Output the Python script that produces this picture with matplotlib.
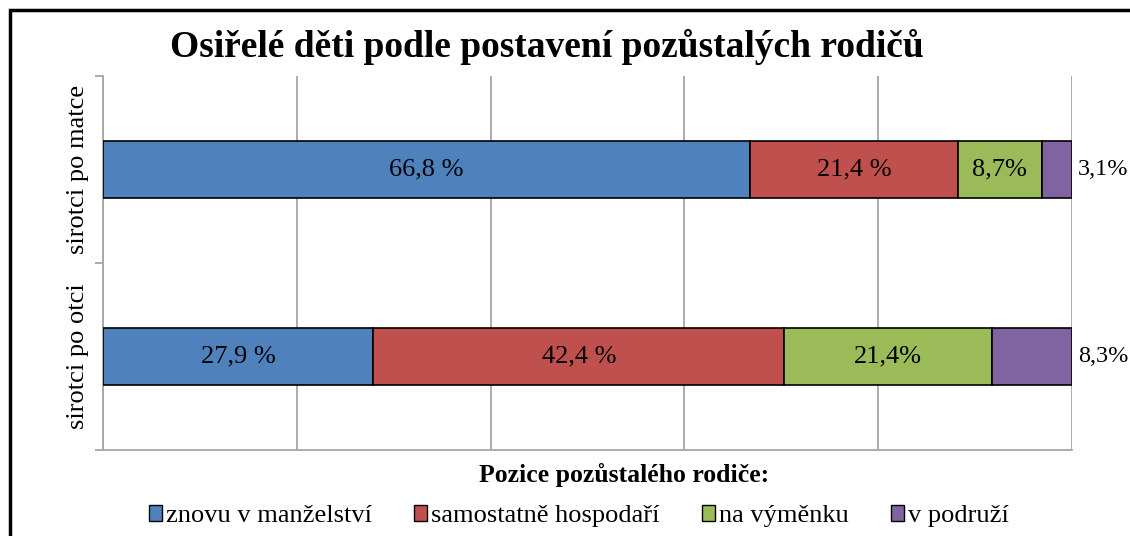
import matplotlib
matplotlib.use("Agg")
import matplotlib.pyplot as plt
from matplotlib.patches import Rectangle, Patch
import numpy as np

categories = ["sirotci po otci", "sirotci po matce"]
series_names = ["znovu v manželství", "samostatně hospodaří", "na výměnku", "v podruží"]
values = {
    "znovu v manželství": [27.9, 66.8],
    "samostatně hospodaří": [42.4, 21.4],
    "na výměnku": [21.4, 8.7],
    "v podruží": [8.3, 3.1],
}
labels = {
    "znovu v manželství": ["27,9 %", "66,8 %"],
    "samostatně hospodaří": ["42,4 %", "21,4 %"],
    "na výměnku": ["21,4%", "8,7%"],
    "v podruží": ["8,3%", "3,1%"],
}
colors = ["#4F81BD", "#C0504D", "#9BBB59", "#8064A2"]

plt.rcParams['font.family'] = ['Liberation Serif', 'DejaVu Serif']

fig = plt.figure(figsize=(11.3, 5.36), dpi=100)
W, H = 1130, 536
ax = fig.add_axes([103 / W, 1 - 450 / H, (1072 - 103) / W, (450 - 76) / H])

# frame around chart
fig.patches.append(Rectangle((10 / W, -0.1), 1.2, 1 - 10 / H + 0.1, transform=fig.transFigure,
                             fill=False, edgecolor="black", linewidth=2.5, zorder=0))

y = np.arange(len(categories))
left = np.zeros(len(categories))
handles = []
for name, col in zip(series_names, colors):
    v = np.array(values[name])
    ax.barh(y, v, left=left, height=0.3, color=col, edgecolor="black", linewidth=1.2, zorder=3)
    for i in range(len(categories)):
        if name == "v podruží":
            ax.text(100.6, y[i], labels[name][i], ha="left", va="center", fontsize=17.5, clip_on=False)
        else:
            ax.text(left[i] + v[i] / 2, y[i], labels[name][i], ha="center", va="center", fontsize=19, zorder=4)
    left += v
    handles.append(Patch(facecolor=col, edgecolor="black", linewidth=1.0))

ax.set_xlim(0, 100)
ax.set_ylim(-0.5, 1.5)
ax.set_xticks([0, 20, 40, 60, 80, 100])
ax.set_xticklabels([])
ax.tick_params(axis="x", length=0)
ax.grid(axis="x", color="#A6A6A6", linewidth=1.3, zorder=0)
ax.set_yticks(y)
ax.set_yticklabels(categories, rotation=90, va="center", fontsize=19)
ax.tick_params(axis="y", length=0, pad=10)
ax.set_yticks([-0.5, 0.5, 1.5], minor=True)
ax.tick_params(axis="y", which="minor", length=6, color="#A6A6A6", width=1.3)
for s in ["top", "right"]:
    ax.spines[s].set_visible(False)
for s in ["left", "bottom"]:
    ax.spines[s].set_color("#A6A6A6")
    ax.spines[s].set_linewidth(1.3)

fig.text(547 / W, 1 - 47 / H, "Osiřelé děti podle postavení pozůstalých rodičů",
         ha="center", va="center", fontsize=27, fontweight="bold")
fig.text(624 / W, 1 - 475 / H, "Pozice pozůstalého rodiče:",
         ha="center", va="center", fontsize=18.5, fontweight="bold")

fig.legend(handles, series_names, loc="center", bbox_to_anchor=(579 / W, 1 - 516 / H), ncol=4,
           frameon=False, fontsize=19, handlelength=0.5, handleheight=0.55, handletextpad=0.15,
           columnspacing=1.6, borderaxespad=0)

fig.savefig("out.png", dpi=100)
